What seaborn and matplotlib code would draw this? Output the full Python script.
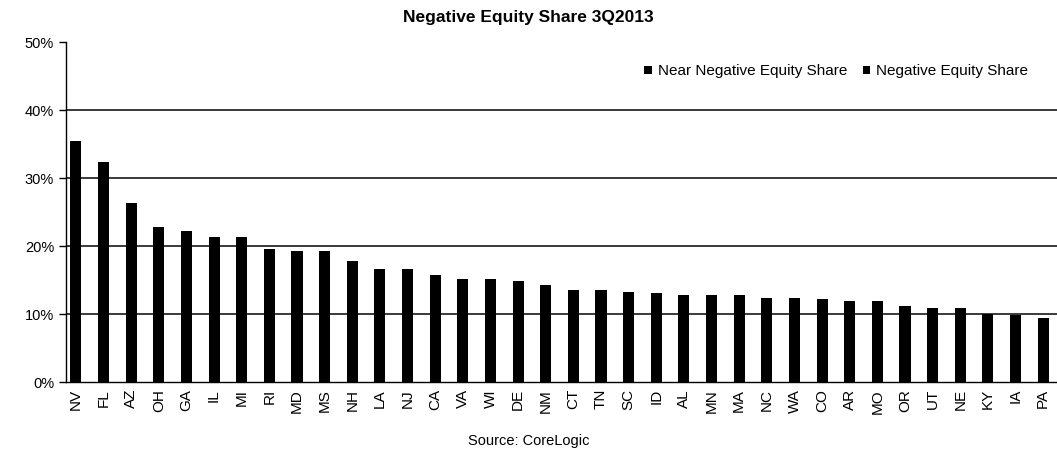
import seaborn as sns
import pandas as pd
import matplotlib.pyplot as plt
import numpy as np
from matplotlib.ticker import FixedLocator, PercentFormatter

states = ["NV", "FL", "AZ", "OH", "GA", "IL", "MI", "RI", "MD", "MS", "NH", "LA",
          "NJ", "CA", "VA", "WI", "DE", "NM", "CT", "TN", "SC", "ID", "AL", "MN",
          "MA", "NC", "WA", "CO", "AR", "MO", "OR", "UT", "NE", "KY", "IA", "PA"]
# negative equity share (%), bottom segment
negative = [32.4, 28.8, 22.4, 18.2, 17.8, 17.6, 17.5, 15.4, 15.4, 15.7, 13.9, 13.4,
            13.2, 12.7, 11.6, 11.6, 11.4, 10.8, 10.2, 9.8, 9.7, 9.9, 9.3, 9.3,
            9.5, 8.8, 9.1, 8.6, 8.5, 8.3, 8.1, 7.6, 7.9, 7.1, 7.4, 6.7]
# near negative equity share (%), stacked on top
near_negative = [3.1, 3.6, 3.9, 4.6, 4.4, 3.7, 3.8, 4.1, 3.9, 3.6, 3.9, 3.2,
                 3.4, 3.0, 3.6, 3.5, 3.4, 3.5, 3.4, 3.8, 3.6, 3.2, 3.5, 3.5,
                 3.3, 3.6, 3.3, 3.6, 3.4, 3.6, 3.1, 3.3, 3.0, 2.9, 2.5, 2.7]

df = pd.DataFrame({"state": states, "neg": negative, "near": near_negative})
df["total"] = df["neg"] + df["near"]

sns.set_style("white", {"text.color": "black", "xtick.color": "black",
                        "ytick.color": "black", "axes.labelcolor": "black"})
plt.rcParams['font.family'] = ['Liberation Sans', 'DejaVu Sans']

fig = plt.figure(figsize=(10.57, 4.57), dpi=100)
ax = fig.add_axes([0.0624, 0.164, 0.9376, 0.744])

sns.barplot(data=df, x="state", y="total", color="black", width=0.4,
            saturation=1, linewidth=0, edgecolor="none",
            label="Near Negative Equity Share", ax=ax, zorder=3)
sns.barplot(data=df, x="state", y="neg", color="black", width=0.4,
            saturation=1, linewidth=0, edgecolor="none",
            label="Negative Equity Share", ax=ax, zorder=3)

ax.set_ylim(0, 50)
ax.set_xlim(-0.36, 35.29)
ax.yaxis.set_major_locator(FixedLocator([0, 10, 20, 30, 40, 50]))
ax.yaxis.set_major_formatter(PercentFormatter(decimals=0))
for y in [10, 20, 30, 40]:
    ax.axhline(y, color="#3a3a3a", lw=1.4, zorder=1)

ax.set_xlabel("")
ax.set_ylabel("")
ax.tick_params(axis="x", which="major", length=0, labelrotation=90,
               labelsize=11, pad=5)
ax.set_xticks(np.arange(len(states)) + 0.5, minor=True)
ax.tick_params(axis="x", which="minor", length=5, width=1, direction="out",
               color="black")
ax.tick_params(axis="y", length=5, width=1, direction="out", color="black",
               labelsize=10.5, left=True)

for s in ["top", "right"]:
    ax.spines[s].set_visible(False)
for s in ["left", "bottom"]:
    ax.spines[s].set_color("black")
    ax.spines[s].set_linewidth(1.0)

ax.legend(loc="upper right", ncol=2, frameon=False, fontsize=11,
          handlelength=0.5, handleheight=0.5, handletextpad=0.4,
          columnspacing=1.0, bbox_to_anchor=(0.985, 0.975))

fig.text(0.5, 0.962, "Negative Equity Share 3Q2013", ha="center", va="center",
         fontsize=12.5, fontweight="bold")
fig.text(0.5, 0.035, "Source: CoreLogic", ha="center", va="center", fontsize=10.5)

fig.savefig("out.png", dpi=100)
